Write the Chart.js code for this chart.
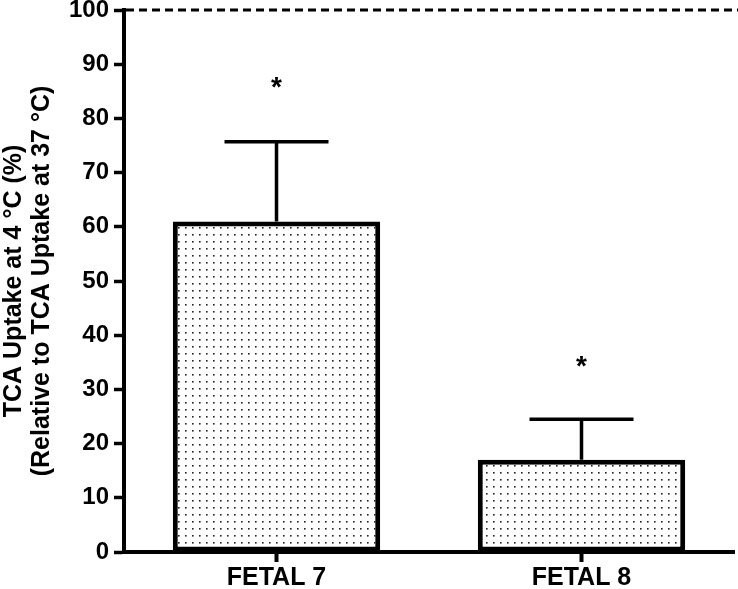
<!DOCTYPE html>
<html>
<head>
<meta charset="utf-8">
<script src="https://cdn.jsdelivr.net/npm/chart.js@4.4.1/dist/chart.umd.min.js"></script>
<style>
  html, body { margin: 0; padding: 0; background: #fff; }
  #wrap { width: 738px; height: 589px; }
</style>
</head>
<body>
<div id="wrap"><canvas id="grafico"></canvas></div>
<script>
// dados
const categorias = ['FETAL 7', 'FETAL 8'];
const valores = [61, 17];
const erroSuperior = [75.7, 24.5];
const asteriscos = [86.5, 35];
const linhaReferencia = 100;

const fonte = '"Liberation Sans", Arial, sans-serif';

// padrão pontilhado das barras
function padraoPontos() {
  const c = document.createElement('canvas');
  c.width = 7; c.height = 7;
  const g = c.getContext('2d');
  g.fillStyle = '#fff';
  g.fillRect(0, 0, 7, 7);
  g.fillStyle = '#222';
  g.fillRect(3, 3, 1.6, 1.6);
  return g.createPattern(c, 'repeat');
}

// barras de erro (só para cima), asteriscos e linha tracejada em 100
const pluginErro = {
  id: 'erro',
  afterDatasetsDraw(chart) {
    const ctx = chart.ctx;
    const y = chart.scales.y;
    const meta = chart.getDatasetMeta(0);
    ctx.save();
    ctx.strokeStyle = '#000';
    ctx.lineWidth = 3.5;
    meta.data.forEach((bar, i) => {
      const topo = y.getPixelForValue(erroSuperior[i]);
      const base = y.getPixelForValue(valores[i]);
      ctx.beginPath();
      ctx.moveTo(bar.x, base);
      ctx.lineTo(bar.x, topo);
      ctx.moveTo(bar.x - 52, topo);
      ctx.lineTo(bar.x + 52, topo);
      ctx.stroke();
      ctx.fillStyle = '#000';
      ctx.font = 'bold 28px ' + fonte;
      ctx.textAlign = 'center';
      ctx.textBaseline = 'middle';
      ctx.fillText('*', bar.x, y.getPixelForValue(asteriscos[i]) + 5);
    });
    const yy = y.getPixelForValue(linhaReferencia);
    ctx.lineWidth = 3;
    ctx.setLineDash([8, 5]);
    ctx.beginPath();
    ctx.moveTo(chart.chartArea.left + 2, yy);
    ctx.lineTo(738, yy);
    ctx.stroke();
    ctx.restore();
  }
};

new Chart(document.getElementById('grafico'), {
  type: 'bar',
  data: {
    labels: categorias,
    datasets: [{
      data: valores,
      backgroundColor: padraoPontos(),
      borderColor: '#000',
      borderWidth: 5,
      borderSkipped: false,
      categoryPercentage: 1,
      barPercentage: 0.68
    }]
  },
  options: {
    responsive: true,
    maintainAspectRatio: false,
    animation: false,
    layout: { padding: { top: 10, right: 4, left: 0, bottom: 0 } },
    plugins: {
      legend: { display: false },
      tooltip: { enabled: false }
    },
    scales: {
      x: {
        afterFit(s) { s.height = 37; },
        border: { color: '#000', width: 4 },
        grid: { display: true, drawOnChartArea: false, offset: false, color: '#000', tickLength: 10, tickWidth: 4 },
        ticks: {
          color: '#000',
          padding: 1,
          font: { family: fonte, size: 25, weight: 'bold' }
        }
      },
      y: {
        min: 0,
        max: 100,
        afterFit(s) { s.width = 124; s.paddingTop = 0; s.paddingBottom = 0; },
        border: { color: '#000', width: 4 },
        grid: { display: true, drawOnChartArea: false, color: '#000', tickLength: 10, tickWidth: 3.5 },
        ticks: {
          stepSize: 10,
          color: '#000',
          padding: 5,
          font: { family: fonte, size: 24, weight: 'bold' }
        },
        title: {
          display: true,
          text: ['TCA Uptake at 4 °C (%)', '(Relative to TCA Uptake at 37 °C)'],
          color: '#000',
          padding: { top: 0, bottom: 0 },
          font: { family: fonte, size: 25, weight: 'bold', lineHeight: 1.12 }
        }
      }
    }
  },
  plugins: [pluginErro]
});
</script>
</body>
</html>
